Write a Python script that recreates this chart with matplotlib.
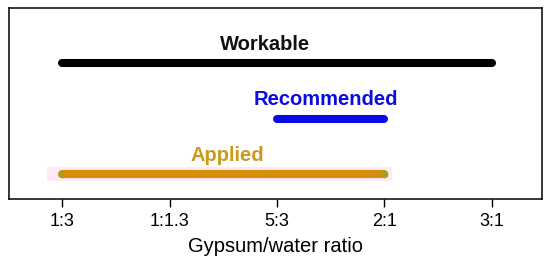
import numpy as np
import matplotlib.pyplot as plt

plt.rcParams['font.family'] = ['Liberation Sans', 'DejaVu Sans']

ratios = ['1:3', '1:1.3', '5:3', '2:1', '3:1']
ranges = ['Workable', 'Recommended', 'Applied']
start = [0, 2, 0]
end = [4, 3, 3]
row = [3, 2, 1]

colors = ['#000000', '#0a0ae6', '#d4900a']
text_colors = ['#111111', '#0a0ae6', '#c99a1c']
label_shift = [-0.11, -0.04, 0.04]

fig = plt.figure(figsize=(5.5, 2.68), dpi=100)
ax = fig.add_axes([0.0155, 0.2575, 0.97, 0.7145])

# pink highlight behind the applied range
ax.plot([start[2] - 0.14, end[2] + 0.07], [row[2], row[2]], color='#ffe9f5',
        lw=10, solid_capstyle='butt', zorder=1)

for i in range(len(ranges)):
    ax.plot([start[i], end[i]], [row[i], row[i]], color=colors[i], lw=5.8,
            solid_capstyle='round', zorder=2)
    mid = (start[i] + end[i]) / 2 + label_shift[i]
    ax.annotate(ranges[i], (mid, row[i]), xytext=(0, 13.5), textcoords='offset points',
                ha='center', va='center', fontsize=14.5, fontweight='bold',
                color=text_colors[i])

# olive tinted caps on the applied line
ax.plot([start[2], end[2]], [row[2], row[2]], 'o', color='#a3a020', ms=5.6,
        mec='none', zorder=3)
ax.plot([start[2] + 0.02, end[2] - 0.02], [row[2], row[2]], color=colors[2], lw=5.8,
        solid_capstyle='butt', zorder=4)

ax.set_xlim(-0.5, 4.47)
ax.set_ylim(0.55, 4.0)
ax.set_xticks(range(len(ratios)))
ax.set_xticklabels(ratios, fontsize=13)
ax.set_yticks([])
ax.tick_params(axis='x', length=6, width=1, pad=4)
for s in ax.spines.values():
    s.set_linewidth(1.1)
ax.set_xlabel('Gypsum/water ratio', fontsize=14.5, labelpad=5)

fig.savefig('out.png', dpi=100)
